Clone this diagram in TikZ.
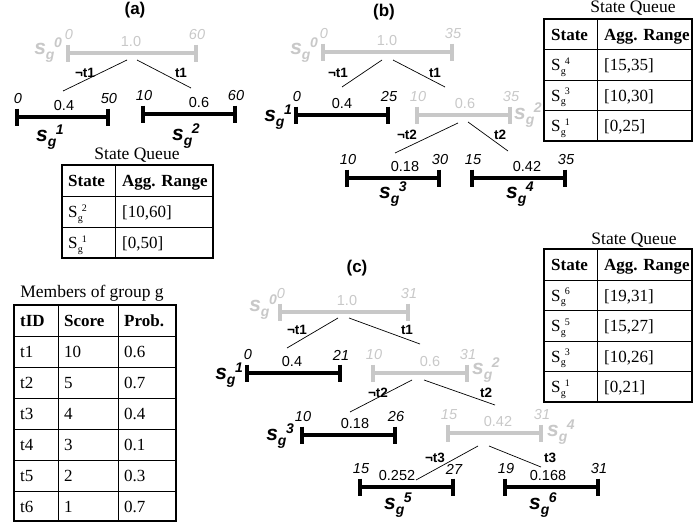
\documentclass[tikz,border=0pt]{standalone}
\usepackage{fontspec}
\setmainfont{Liberation Serif}
\setsansfont{Liberation Sans}
\definecolor{pale}{RGB}{200,200,200}
% s_g^n state label (bold italic sans)
\newcommand\sgl[1]{{\fontsize{21}{21}\selectfont s}\raisebox{-4.5pt}{\fontsize{14}{14}\selectfont g}\kern-0.5pt\raisebox{7pt}{\fontsize{14}{14}\selectfont #1}}
% S_g^n as printed in the queue tables
\newcommand\tsg[1]{S\kern0.3pt\raisebox{-3.5pt}{\fontsize{10}{10}\selectfont g}\kern-1pt\raisebox{6.5pt}{\fontsize{10}{10}\selectfont #1}}
\tikzset{
  num/.style={font=\sffamily\itshape\fontsize{14.5}{14.5}\selectfont, inner sep=0pt},
  prob/.style={font=\sffamily\fontsize{14.5}{14.5}\selectfont, inner sep=0pt},
  elab/.style={font=\sffamily\bfseries\fontsize{13.5}{13.5}\selectfont, inner sep=0pt},
  slab/.style={font=\sffamily\bfseries\itshape, inner sep=0pt},
  panel/.style={font=\sffamily\bfseries\fontsize{17}{17}\selectfont, inner sep=0pt},
  edge/.style={line width=0.7pt},
  cell/.style={font=\fontsize{17}{17}\selectfont, inner sep=0pt, anchor=base west},
  hcell/.style={font=\fontsize{17}{17}\selectfont\bfseries, inner sep=0pt, anchor=base west},
  ttitle/.style={font=\fontsize{17.5}{17.5}\selectfont, inner sep=0pt},
  outer/.style={line width=1.8pt},
  inner/.style={line width=0.8pt},
}
% range bar: name, colour, x1, x2, y, low, high, probability, x of probability
\newcommand\sgbar[9]{%
  \draw[line width=3.8pt,#2] (#3,#5) -- (#4,#5);
  \draw[line width=4.2pt,#2] (#3,#5-8.5) -- (#3,#5+8.5);
  \draw[line width=4.2pt,#2] (#4,#5-8.5) -- (#4,#5+8.5);
  \node[num,#2] (#1lo) at (#3+1,#5-18) {#6};
  \node[num,#2] (#1hi) at (#4+1,#5-18) {#7};
  \node[prob,#2] (#1p) at (#9,#5-11) {#8};
}
\begin{document}
\begin{tikzpicture}[x=1pt,y=-1pt]
\useasboundingbox (0,0) rectangle (693,522);

% ---------------- (a) ----------------
\node[panel] (ta) at (135,10) {(a)};
\sgbar{a0}{pale}{68}{196}{53}{0}{60}{1.0}{131}
\node[slab,pale,anchor=east] (a0s) at (62,50) {\sgl{0}};
\coordinate (a0L) at (127,60); \coordinate (a1T) at (63,91);
\coordinate (a0R) at (137,60); \coordinate (a2T) at (191,88);
\draw[edge] (a0L) -- (a1T);
\draw[edge] (a0R) -- (a2T);
\node[elab] (a01) at (85,73) {¬t1};
\node[elab] (a02) at (181,73) {t1};
\sgbar{a1}{black}{17}{108}{117}{0}{50}{0.4}{64}
\node[slab] (a1s) at (50,137) {\sgl{1}};
\sgbar{a2}{black}{143}{235}{114}{10}{60}{0.6}{199}
\node[slab] (a2s) at (186,136) {\sgl{2}};

% state queue (a)
\node[ttitle] (qat) at (137,155) {State Queue};
\draw[outer] (62,165) rectangle (213,258);
\draw[inner] (62,196) -- (213,196) (62,227) -- (213,227) (115,165) -- (115,258);
\node[hcell] (qa1) at (68,186.5) {State};
\node[hcell] (qa2) at (122,186.5) {Agg. Range};
\node[cell] (qa3) at (68,217.5) {\tsg{2}};
\node[cell] (qa4) at (122,217.5) {[10,60]};
\node[cell] (qa5) at (68,248.5) {\tsg{1}};
\node[cell] (qa6) at (122,248.5) {[0,50]};

% ---------------- (b) ----------------
\node[panel] (tb) at (384,12) {(b)};
\sgbar{b0}{pale}{323}{452}{52}{0}{35}{1.0}{387}
\node[slab,pale,anchor=east] (b0s) at (318,50) {\sgl{0}};
\coordinate (b0L) at (382,60); \coordinate (b1T) at (342,87);
\coordinate (b0R) at (393,60); \coordinate (b2T) at (445,87);
\draw[edge] (b0L) -- (b1T);
\draw[edge] (b0R) -- (b2T);
\node[elab] (b01) at (338,73) {¬t1};
\node[elab] (b02) at (435,73) {t1};
\sgbar{b1}{black}{296}{388}{115}{0}{25}{0.4}{342}
\node[slab,anchor=east] (b1s) at (292,117) {\sgl{1}};
\sgbar{b2}{pale}{417}{510}{115}{10}{35}{0.6}{465}
\node[slab,pale,anchor=west] (b2s) at (514,115) {\sgl{2}};
\coordinate (b2L) at (458,123); \coordinate (b3T) at (395,153);
\coordinate (b2R) at (468,122); \coordinate (b4T) at (508,151);
\draw[edge] (b2L) -- (b3T);
\draw[edge] (b2R) -- (b4T);
\node[elab] (b21) at (407,135) {¬t2};
\node[elab] (b22) at (500,135) {t2};
\sgbar{b3}{black}{347}{439}{178}{10}{30}{0.18}{405}
\node[slab] (b3s) at (393,194) {\sgl{3}};
\sgbar{b4}{black}{472}{565}{178}{15}{35}{0.42}{527}
\node[slab] (b4s) at (520,194) {\sgl{4}};

% state queue (b)
\node[ttitle] (qbt) at (633,8) {State Queue};
\draw[outer] (544,19) rectangle (692,141);
\draw[inner] (544,49) -- (692,49) (544,80) -- (692,80) (544,110) -- (692,110) (597,19) -- (597,141);
\node[hcell] (qb1) at (551,40) {State};
\node[hcell] (qb2) at (604,40) {Agg. Range};
\node[cell] (qb3) at (551,70.5) {\tsg{4}};
\node[cell] (qb4) at (604,70.5) {[15,35]};
\node[cell] (qb5) at (551,101) {\tsg{3}};
\node[cell] (qb6) at (604,101) {[10,30]};
\node[cell] (qb7) at (551,131.5) {\tsg{1}};
\node[cell] (qb8) at (604,131.5) {[0,25]};

% ---------------- members of group g ----------------
\node[ttitle] (mt) at (92,293) {Members of group g};
\draw[outer] (14,305) rectangle (176,521);
\foreach \yy in {336,367,398,429,460,491} \draw[inner] (14,\yy) -- (176,\yy);
\draw[inner] (58,305) -- (58,521) (118,305) -- (118,521);
\node[hcell] (mh1) at (20,326) {tID};
\node[hcell] (mh2) at (64,326) {Score};
\node[hcell] (mh3) at (124,326) {Prob.};
\foreach \r/\sc/\pr [count=\i] in {1/10/0.6, 2/5/0.7, 3/4/0.4, 4/3/0.1, 5/2/0.3, 6/1/0.7}{
  \node[cell] (mr\i a) at (20,326+31*\i) {t\r};
  \node[cell] (mr\i b) at (64,326+31*\i) {\sc};
  \node[cell] (mr\i c) at (124,326+31*\i) {\pr};
}

% ---------------- (c) ----------------
\node[panel] (tc) at (357,268) {(c)};
\sgbar{c0}{pale}{280}{408}{312}{0}{31}{1.0}{347}
\node[slab,pale,anchor=east] (c0s) at (277,307) {\sgl{0}};
\coordinate (c0L) at (338,318); \coordinate (c1T) at (287,348);
\coordinate (c0R) at (349,318); \coordinate (c2T) at (420,344);
\draw[edge] (c0L) -- (c1T);
\draw[edge] (c0R) -- (c2T);
\node[elab] (c01) at (297,330) {¬t1};
\node[elab] (c02) at (407,330) {t1};
\sgbar{c1}{black}{247}{340}{373}{0}{21}{0.4}{292}
\node[slab,anchor=east] (c1s) at (243,375) {\sgl{1}};
\sgbar{c2}{pale}{373}{467}{373}{10}{31}{0.6}{430}
\node[slab,pale,anchor=west] (c2s) at (472,370) {\sgl{2}};
\coordinate (c2L) at (412,380); \coordinate (c3T) at (350,412);
\coordinate (c2R) at (424,380); \coordinate (c4T) at (495,405);
\draw[edge] (c2L) -- (c3T);
\draw[edge] (c2R) -- (c4T);
\node[elab] (c21) at (378,393) {¬t2};
\node[elab] (c22) at (486,393) {t2};
\sgbar{c3}{black}{302}{395}{435}{10}{26}{0.18}{355}
\node[slab,anchor=east] (c3s) at (294,436) {\sgl{3}};
\sgbar{c4}{pale}{448}{541}{433}{15}{31}{0.42}{498}
\node[slab,pale,anchor=west] (c4s) at (547,432) {\sgl{4}};
\coordinate (c4L) at (478,446); \coordinate (c5T) at (416,480);
\coordinate (c4R) at (489,446); \coordinate (c6T) at (541,467);
\draw[edge] (c4L) -- (c5T);
\draw[edge] (c4R) -- (c6T);
\node[elab] (c41) at (435,458) {¬t3};
\node[elab] (c42) at (550,458) {t3};
\sgbar{c5}{black}{360}{453}{487}{15}{27}{0.252}{397}
\node[slab] (c5s) at (398,505) {\sgl{5}};
\sgbar{c6}{black}{505}{598}{487}{19}{31}{0.168}{548}
\node[slab] (c6s) at (543,505) {\sgl{6}};

% state queue (c)
\node[ttitle] (qct) at (634,240) {State Queue};
\draw[outer] (544,249) rectangle (692,402);
\draw[inner] (544,280) -- (692,280) (544,310) -- (692,310) (544,341) -- (692,341) (544,371) -- (692,371) (597,249) -- (597,402);
\node[hcell] (qc1) at (551,270.5) {State};
\node[hcell] (qc2) at (604,270.5) {Agg. Range};
\node[cell] (qc3) at (551,301) {\tsg{6}};
\node[cell] (qc4) at (604,301) {[19,31]};
\node[cell] (qc5) at (551,331.5) {\tsg{5}};
\node[cell] (qc6) at (604,331.5) {[15,27]};
\node[cell] (qc7) at (551,362) {\tsg{3}};
\node[cell] (qc8) at (604,362) {[10,26]};
\node[cell] (qc9) at (551,392.5) {\tsg{1}};
\node[cell] (qc10) at (604,392.5) {[0,21]};
\end{tikzpicture}
\end{document}
